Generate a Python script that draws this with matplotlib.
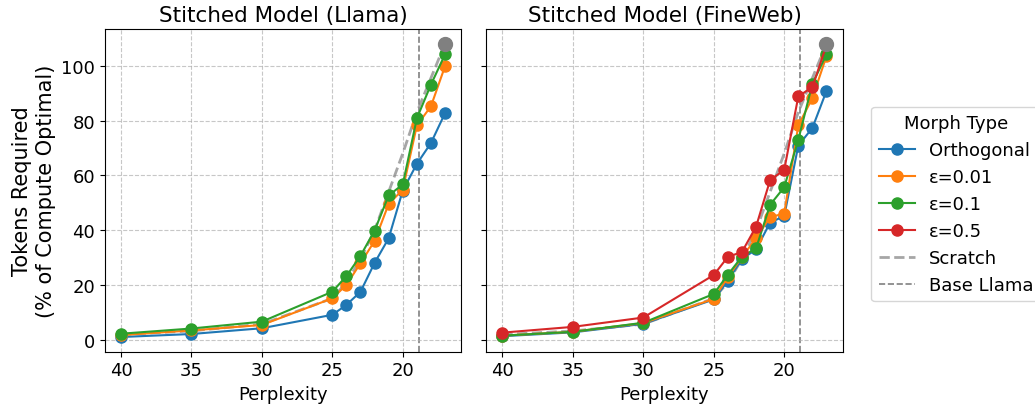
import matplotlib
matplotlib.use("Agg")
import matplotlib.pyplot as plt

perplexity = [40, 35, 30, 25, 24, 23, 22, 21, 20, 19, 18, 17]

# Scratch baseline (same in both panels)
scratch = [2.0, 3.3, 5.8, 15.2, 21.0, 29.5, 40.0, 54.0, 68.0, 83.0, 95.5, 108.0]

# Stitched Model (Llama)
llama_orth = [1.1, 2.2, 4.3, 9.2, 12.8, 17.6, 28.1, 37.1, 54.5, 64.2, 71.8, 82.7]
llama_e001 = [1.8, 3.5, 5.5, 15.2, 20.1, 28.0, 36.1, 49.6, 54.8, 78.2, 85.2, 99.8]
llama_e01 = [2.3, 4.2, 6.7, 17.6, 23.3, 30.7, 39.9, 52.7, 56.7, 80.8, 93.1, 104.1]

# Stitched Model (FineWeb)
fw_orth = [1.4, 2.8, 5.9, 14.8, 21.6, 29.6, 33.0, 42.8, 45.2, 70.9, 77.3, 90.8]
fw_e001 = [1.6, 3.0, 6.2, 15.0, 22.9, 30.2, 37.1, 44.8, 46.1, 78.2, 88.2, 103.5]
fw_e01 = [1.6, 3.0, 6.3, 16.8, 23.8, 30.4, 33.4, 49.3, 55.7, 73.0, 93.4, 104.1]
fw_e05 = [2.7, 4.8, 8.2, 23.7, 30.3, 32.1, 41.3, 58.3, 62.0, 88.8, 92.2, 107.5]

base_llama_ppl = 18.85

series_names = ["Orthogonal", "ε=0.01", "ε=0.1", "ε=0.5"]
colors = ["#1f77b4", "#ff7f0e", "#2ca02c", "#d62728"]

fig, axes = plt.subplots(1, 2, figsize=(10.35, 4.06), dpi=100, sharey=True)
fig.subplots_adjust(left=0.1012, right=0.8142, top=0.926, bottom=0.1313, wspace=0.07)

panels = [
    ("Stitched Model (Llama)", [llama_orth, llama_e001, llama_e01]),
    ("Stitched Model (FineWeb)", [fw_orth, fw_e001, fw_e01, fw_e05]),
]

for ax, (title, series) in zip(axes, panels):
    ax.plot(perplexity, scratch, linestyle="--", color="gray", alpha=0.7,
            linewidth=2, label="Scratch", zorder=2)
    for vals, name, c in zip(series, series_names, colors):
        ax.plot(perplexity, vals, "-o", color=c, linewidth=1.5, markersize=8,
                label=name, zorder=3)
    ax.plot([perplexity[-1]], [scratch[-1]], "o", color="gray", markersize=10, zorder=4)
    ax.axvline(base_llama_ppl, color="gray", linestyle="--", linewidth=1.2,
               label="Base Llama", zorder=1)
    ax.invert_xaxis()
    ax.set_title(title, fontsize=15.5)
    ax.set_xlabel("Perplexity", fontsize=13)
    ax.grid(True, linestyle="--", alpha=0.7)
    ax.tick_params(labelsize=13)
    ax.set_yticks([0, 20, 40, 60, 80, 100])
    ax.set_xticks([40, 35, 30, 25, 20])

axes[0].set_ylabel("Tokens Required\n(% of Compute Optimal)", fontsize=15)

h, l = axes[1].get_legend_handles_labels()
order = [l.index(n) for n in series_names + ["Scratch", "Base Llama"]]
axes[1].legend([h[i] for i in order], [l[i] for i in order], title="Morph Type",
               fontsize=13, title_fontsize=13, loc="center left",
               bbox_to_anchor=(1.055, 0.458))

fig.savefig("out.png", dpi=100)
